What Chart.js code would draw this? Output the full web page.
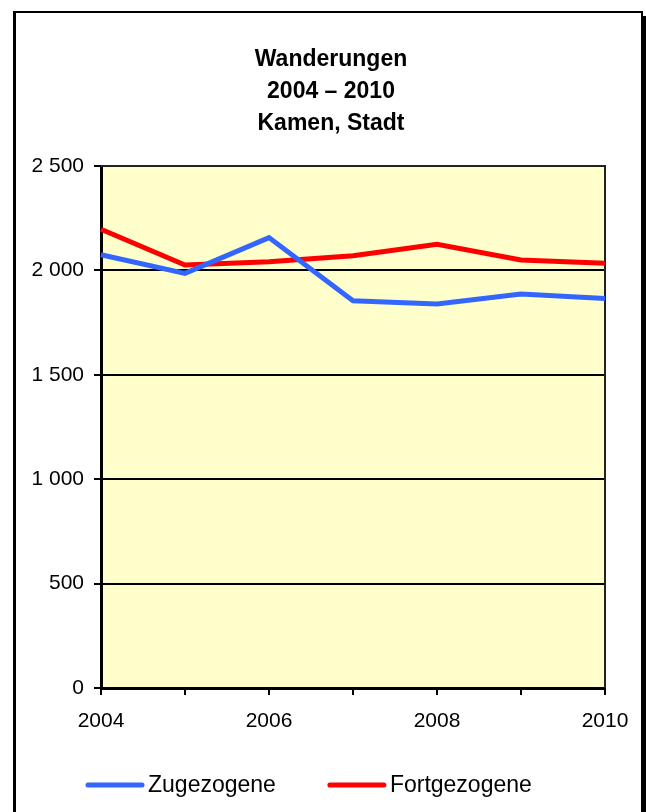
<!DOCTYPE html>
<html>
<head>
<meta charset="utf-8">
<script src="https://cdn.jsdelivr.net/npm/chart.js@4/dist/chart.umd.min.js"></script>
<style>
  html, body { margin: 0; padding: 0; background: #fff; }
  #wrap { position: relative; width: 646px; height: 812px; overflow: hidden; }
  #rahmen {
    position: absolute; left: 13px; top: 11px; width: 625px; height: 900px;
    border: 2px solid #000; border-left-width: 3px;
    box-shadow: 5px 5px 0 #000;
  }
  #grafik { position: absolute; left: 0; top: 0; }
</style>
</head>
<body>
<div id="wrap">
  <div id="rahmen"></div>
  <canvas id="grafik" width="646" height="812"></canvas>
</div>
<script>
    let jahre = ["2004", "2005", "2006", "2007", "2008", "2009", "2010"];
    let xBeschriftung = ["2004", "", "2006", "", "2008", "", "2010"];
    let zugezogene = [2075, 1986, 2157, 1855, 1839, 1887, 1865];
    let fortgezogene = [2197, 2026, 2042, 2070, 2125, 2050, 2034];
    let titel = ["Wanderungen", "2004 – 2010", "Kamen, Stadt"];

    const schrift = "'Liberation Sans', Arial, sans-serif";

    function tausender(v) {
      return String(v).replace(/\B(?=(\d{3})+(?!\d))/g, " ");
    }

    // gelber Hintergrund + Rahmen oben/rechts
    const hintergrund = {
      id: "hintergrund",
      beforeDraw(chart) {
        let { ctx, chartArea: a } = chart;
        ctx.save();
        ctx.fillStyle = "#FFFFCC";
        ctx.fillRect(a.left, a.top, a.right - a.left, a.bottom - a.top);
        ctx.restore();
      },
      beforeDatasetsDraw(chart) {
        let { ctx, chartArea: a } = chart;
        ctx.save();
        ctx.strokeStyle = "#222";
        ctx.lineWidth = 2;
        ctx.beginPath();
        ctx.moveTo(a.left, a.top);
        ctx.lineTo(a.right, a.top);
        ctx.lineTo(a.right, a.bottom);
        ctx.stroke();
        ctx.restore();
      }
    };

    // Titel (mittig über dem Rahmen, nicht über der Zeichenfläche)
    const ueberschrift = {
      id: "ueberschrift",
      afterDraw(chart) {
        let ctx = chart.ctx;
        ctx.save();
        ctx.font = "bold 23px " + schrift;
        ctx.fillStyle = "#000";
        ctx.textAlign = "center";
        ctx.textBaseline = "middle";
        titel.forEach((zeile, i) => ctx.fillText(zeile, 331, 60 + i * 32));
        ctx.restore();
      }
    };

    // Legende unten, von Hand gezeichnet
    const legende = {
      id: "legende",
      afterDraw(chart) {
        let ctx = chart.ctx;
        let x = 86, y = 785;
        ctx.save();
        ctx.font = "23px " + schrift;
        ctx.textBaseline = "middle";
        chart.data.datasets.forEach(ds => {
          ctx.strokeStyle = ds.borderColor;
          ctx.lineWidth = 5;
          ctx.lineCap = "round";
          ctx.beginPath();
          ctx.moveTo(x + 2, y);
          ctx.lineTo(x + 56, y);
          ctx.stroke();
          ctx.fillStyle = "#000";
          ctx.fillText(ds.label, x + 62, y + 1);
          x += 62 + ctx.measureText(ds.label).width + 52;
        });
        ctx.restore();
      }
    };

    new Chart(document.getElementById("grafik"), {
      type: "line",
      data: {
        labels: jahre,
        datasets: [
          { label: "Zugezogene", data: zugezogene, borderColor: "#3366FF", backgroundColor: "#3366FF", borderWidth: 5, pointRadius: 0, tension: 0 },
          { label: "Fortgezogene", data: fortgezogene, borderColor: "#FF0000", backgroundColor: "#FF0000", borderWidth: 5, pointRadius: 0, tension: 0 }
        ]
      },
      options: {
        responsive: false,
        animation: false,
        layout: { padding: { left: 31, right: 41, top: 166, bottom: 60 } },
        plugins: {
          legend: { display: false },
          tooltip: { enabled: false },
          title: { display: false }
        },
        scales: {
          x: {
            offset: false,
            afterFit(s) { s.height = 64; },
            grid: { drawOnChartArea: false, drawTicks: true, tickLength: 7, color: "#000", lineWidth: 2 },
            border: { display: true, color: "#000", width: 3 },
            ticks: {
              autoSkip: false, maxRotation: 0, padding: 14, color: "#000",
              font: { family: schrift, size: 21 },
              callback: (v, i) => xBeschriftung[i]
            }
          },
          y: {
            min: 0, max: 2500,
            afterFit(s) { s.width = 70; },
            grid: { color: "#000", lineWidth: 2, drawTicks: true, tickLength: 7 },
            border: { display: true, color: "#000", width: 3 },
            ticks: {
              stepSize: 500, padding: 10, color: "#000",
              font: { family: schrift, size: 21 },
              callback: v => tausender(v)
            }
          }
        }
      },
      plugins: [hintergrund, ueberschrift, legende]
    });
</script>
</body>
</html>
